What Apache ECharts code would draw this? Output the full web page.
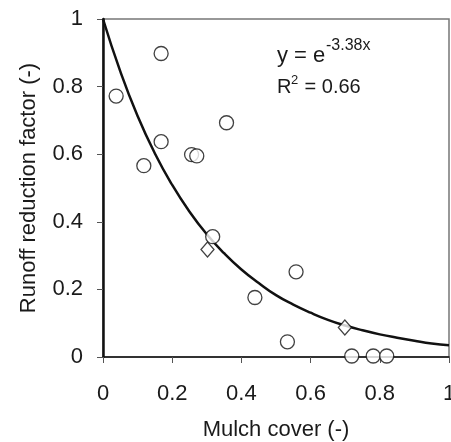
<!DOCTYPE html>
<html>
<head>
<meta charset="utf-8">
<script src="https://cdn.jsdelivr.net/npm/echarts@6/dist/echarts.min.js"></script>
<style>
html,body{margin:0;padding:0;background:#fff;}
#c{width:451px;height:442px;}
</style>
</head>
<body>
<div id="c"></div>
<script>
// Observed points (circles)
var obsX = [0.038, 0.118, 0.168, 0.168, 0.256, 0.271, 0.317, 0.357, 0.439, 0.533, 0.558, 0.719, 0.781, 0.820];
var obsY = [0.772, 0.566, 0.898, 0.637, 0.599, 0.595, 0.356, 0.693, 0.176, 0.045, 0.252, 0.003, 0.003, 0.003];
// Diamond points
var diaX = [0.302, 0.699];
var diaY = [0.318, 0.087];
// Fitted curve
var curveX = [0, 0.05, 0.1, 0.15, 0.2, 0.25, 0.3, 0.35, 0.4, 0.45, 0.5, 0.55, 0.6, 0.65, 0.7, 0.75, 0.8, 0.85, 0.9, 0.95, 1.0];
var curveY = [1, 0.845, 0.713, 0.602, 0.509, 0.430, 0.363, 0.307, 0.259, 0.219, 0.183, 0.155, 0.131, 0.110, 0.093, 0.079, 0.067, 0.057, 0.048, 0.040, 0.035];
var xTicks = [0, 0.2, 0.4, 0.6, 0.8, 1];
var yTicks = [0, 0.2, 0.4, 0.6, 0.8, 1];

function pairs(xs, ys){ return xs.map(function(x,i){ return [x, ys[i]]; }); }

var font = 'Liberation Sans, Arial, sans-serif';
var chart = echarts.init(document.getElementById('c'), null, {renderer:'canvas'});
chart.setOption({
  animation: false,
  backgroundColor: '#fff',
  grid: {left: 103, right: 2, top: 19, bottom: 85, containLabel: false, outerBoundsMode: 'none',
         show: true, borderColor: '#777', borderWidth: 1.5},
  xAxis: {
    type: 'value', min: 0, max: 1, interval: 0.2,
    name: 'Mulch cover (-)', nameLocation: 'middle', nameGap: 62,
    nameTextStyle: {fontFamily: font, fontSize: 22, color: '#1a1a1a'},
    axisLine: {show: true, onZero: false, lineStyle: {color: '#111', width: 1.5}},
    axisTick: {show: true, length: 6, inside: false, lineStyle: {color: '#555', width: 1}},
    axisLabel: {fontFamily: font, fontSize: 22, color: '#1a1a1a', margin: 26, hideOverlap: false,
      formatter: function(v){ return xTicks.indexOf(+v.toFixed(1)) >= 0 ? String(+v.toFixed(1)) : ''; }},
    splitLine: {show: false}
  },
  yAxis: {
    type: 'value', min: 0, max: 1, interval: 0.2,
    name: 'Runoff reduction factor (-)', nameLocation: 'middle', nameGap: 63, nameRotate: 90,
    nameTextStyle: {fontFamily: font, fontSize: 22, color: '#1a1a1a'},
    axisLine: {show: true, onZero: false, lineStyle: {color: '#111', width: 2.5}},
    axisTick: {show: true, length: 6, inside: false, lineStyle: {color: '#555', width: 1}},
    axisLabel: {fontFamily: font, fontSize: 22, color: '#1a1a1a', margin: 20,
      formatter: function(v){ return yTicks.indexOf(+v.toFixed(1)) >= 0 ? String(+v.toFixed(1)) : ''; }},
    splitLine: {show: false}
  },
  graphic: [
    {type: 'text', left: 277, top: 45, style: {text: 'y = e', font: '22px ' + font, fill: '#1a1a1a'}},
    {type: 'text', left: 326, top: 38, style: {text: '-3.38x', font: '16px ' + font, fill: '#1a1a1a'}},
    {type: 'text', left: 277, top: 77, style: {text: 'R', font: '20px ' + font, fill: '#1a1a1a'}},
    {type: 'text', left: 291, top: 74, style: {text: '2', font: '13px ' + font, fill: '#1a1a1a'}},
    {type: 'text', left: 299, top: 77, style: {text: ' = 0.66', font: '20px ' + font, fill: '#1a1a1a'}}
  ],
  series: [
    {type: 'line', data: pairs(curveX, curveY), smooth: true, showSymbol: false, symbol: 'none',
     lineStyle: {color: '#111', width: 2.5}, z: 2},
    {type: 'scatter', data: pairs(obsX, obsY), symbol: 'circle', symbolSize: 14,
     itemStyle: {color: '#fff', borderColor: '#111', borderWidth: 1.3}, z: 3},
    {type: 'scatter', data: pairs(diaX, diaY), symbol: 'diamond', symbolSize: [13, 15],
     itemStyle: {color: '#fff', borderColor: '#111', borderWidth: 1.3}, z: 3}
  ]
});
</script>
</body>
</html>
